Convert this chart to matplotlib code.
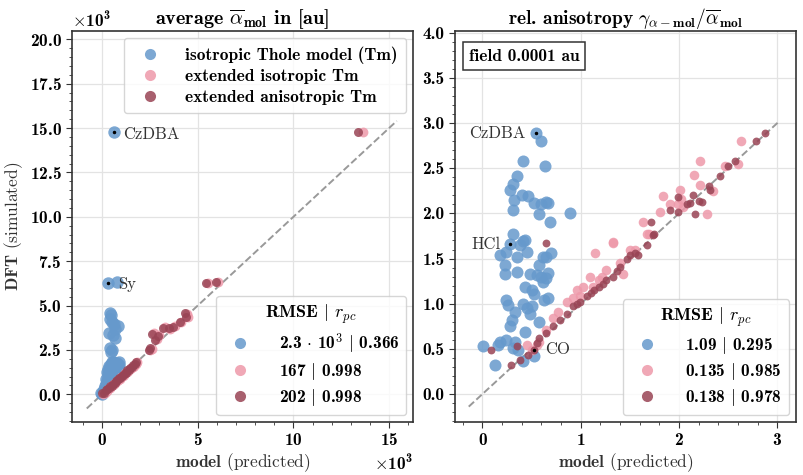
import matplotlib
matplotlib.use("Agg")
import matplotlib.pyplot as plt
from matplotlib.lines import Line2D
import numpy as np

plt.rcParams['font.family'] = 'cmb10'
plt.rcParams['mathtext.fontset'] = 'cm'
plt.rcParams['axes.unicode_minus'] = False
plt.rcParams['axes.formatter.use_mathtext'] = True

blue = '#6699CC'
pink = '#EE99AA'
red = '#994455'

# ---- left panel: average polarizability, in units of 10^3 au ----
avg_iso_x = [0.60, 0.33, 0.80, 0.43, 0.45, 0.42, 0.50, 0.60, 0.85, 0.70, 0.34, 0.69, 0.55,
             0.43, 0.52, 0.48, 0.00, 0.05, -0.05, 0.10, 0.15, 0.20, 0.10, 0.25, 0.30, 0.20,
             0.35, 0.40, 0.30, 0.45, 0.50, 0.40, 0.55, 0.50, 0.65, 0.70, 0.60, 0.75, 0.55,
             0.65, 0.45, 0.35, 0.80, 0.50, 0.60, 0.70, 0.25, 0.40, 0.15, 0.30, 0.85, 0.90,
             0.38, 0.48, 0.58, 0.68, 0.78, 0.28, 0.33, 0.62, 0.72, 0.52, 0.42, 0.88]
avg_iso_y = [14.75, 6.25, 6.35, 4.60, 4.45, 4.25, 4.05, 3.95, 3.85, 3.70, 3.45, 3.17, 3.35,
             2.60, 2.50, 2.40, 0.00, 0.15, 0.05, 0.30, 0.45, 0.60, 0.20, 0.75, 0.90, 0.85,
             1.05, 1.20, 1.15, 1.35, 1.50, 1.40, 1.65, 1.80, 1.75, 1.55, 1.40, 1.45, 1.20,
             1.30, 1.00, 0.80, 1.70, 1.10, 1.60, 1.25, 0.50, 0.70, 0.25, 0.55, 1.55, 1.65,
             1.62, 1.72, 1.82, 1.68, 1.78, 1.25, 1.45, 1.00, 1.35, 1.30, 0.95, 1.80]

avg_ext_x = [13.65, 5.55, 6.05, 4.45, 4.50, 4.15, 3.80, 3.55, 3.30, 3.00, 2.70, 2.85, 2.60,
             2.50, 0.05, 0.15, 0.25, 0.32, 0.40, 0.48, 0.55, 0.62, 0.70, 0.78, 0.85, 0.93,
             1.00, 1.08, 1.15, 1.22, 1.30, 1.38, 1.45, 1.52, 1.60, 1.68, 1.75, 1.85]
avg_ext_y = [14.75, 6.25, 6.35, 4.50, 4.35, 4.05, 3.85, 3.70, 3.80, 3.35, 3.45, 3.10, 2.55,
             2.50, 0.02, 0.10, 0.20, 0.28, 0.36, 0.45, 0.50, 0.58, 0.66, 0.74, 0.80, 0.88,
             0.96, 1.03, 1.10, 1.18, 1.26, 1.33, 1.40, 1.47, 1.55, 1.62, 1.70, 1.80]

avg_aniso_x = [13.40, 5.45, 5.95, 4.32, 4.40, 4.05, 3.70, 3.50, 3.19, 2.93, 2.59, 2.76, 2.53,
               2.44, 0.02, 0.12, 0.20, 0.28, 0.35, 0.42, 0.50, 0.58, 0.65, 0.72, 0.80, 0.88,
               0.95, 1.02, 1.10, 1.18, 1.25, 1.32, 1.40, 1.48, 1.55, 1.62, 1.70, 1.78]
avg_aniso_y = [14.75, 6.25, 6.35, 4.56, 4.33, 4.09, 3.81, 3.75, 3.75, 3.28, 3.40, 3.06, 2.59,
               2.50, 0.05, 0.10, 0.22, 0.30, 0.33, 0.45, 0.48, 0.60, 0.63, 0.75, 0.78, 0.90,
               0.93, 1.05, 1.08, 1.20, 1.22, 1.35, 1.38, 1.50, 1.52, 1.65, 1.68, 1.80]

# ---- right panel: relative anisotropy ----
ani_iso_x = [0.54, 0.60, 0.41, 0.64, 0.35, 0.31, 0.28, 0.32, 0.40, 0.46, 0.52, 0.60, 0.65,
             0.67, 0.31, 0.58, 0.69, 0.89, 0.31, 0.41, 0.43, 0.38, 0.18, 0.24, 0.45, 0.35,
             0.23, 0.35, 0.23, 0.58, 0.65, 0.70, 0.62, 0.48, 0.55, 0.60, 0.65, 0.62, 0.67,
             0.43, 0.50, 0.52, 0.63, 0.67, 0.24, 0.26, 0.41, 0.45, 0.50, 0.33, 0.48, 0.30,
             0.57, 0.28, 0.43, 0.18, 0.24, 0.33, 0.16, 0.01, 0.31, 0.36, 0.13, 0.41, 0.52,
             0.28]
ani_iso_y = [2.89, 2.80, 2.58, 2.52, 2.41, 2.33, 2.26, 2.15, 2.20, 2.19, 2.12, 2.10, 2.13,
             2.12, 2.04, 1.99, 1.90, 2.00, 1.77, 1.69, 1.70, 1.65, 1.54, 1.57, 1.57, 1.52,
             1.43, 1.35, 1.33, 1.43, 1.52, 1.56, 1.52, 1.33, 1.32, 1.30, 1.28, 1.24, 1.34,
             1.19, 1.15, 1.11, 1.04, 1.06, 1.04, 0.99, 1.00, 0.95, 0.97, 0.91, 0.89, 0.82,
             0.80, 0.75, 0.69, 0.58, 0.60, 0.58, 0.54, 0.53, 0.51, 0.49, 0.32, 0.36, 0.42,
             1.66]

ani_ext_x = [2.63, 2.21, 2.15, 2.21, 2.47, 2.01, 1.84, 1.91, 1.81, 2.02, 1.99, 2.04, 2.28,
             1.63, 1.69, 1.33, 1.67, 1.33, 1.14, 1.43, 1.09, 1.19, 0.96, 0.86, 0.77, 0.72,
             0.65, 0.58, 0.55, 0.50, 0.45, 1.02, 1.26, 0.99, 1.50, 0.92, 1.22, 1.12, 1.40,
             2.60, 2.35, 1.55]
ani_ext_y = [2.80, 2.58, 2.42, 2.31, 2.53, 2.26, 2.19, 2.10, 2.01, 2.16, 2.10, 2.07, 1.99,
             1.90, 1.77, 1.68, 1.77, 1.67, 1.56, 1.33, 1.30, 1.26, 1.15, 1.02, 0.91, 0.84,
             0.71, 0.58, 0.54, 0.49, 0.54, 1.19, 1.37, 1.08, 1.59, 1.06, 1.30, 1.18, 1.45,
             2.55, 2.25, 1.60]

ani_aniso_x = [2.88, 2.78, 2.57, 2.50, 2.42, 2.31, 2.32, 2.23, 2.14, 2.11, 2.08, 1.99, 2.16,
               1.99, 1.91, 1.71, 1.74, 1.75, 1.67, 1.58, 1.50, 1.47, 1.40, 1.33, 1.26, 1.19,
               1.13, 1.06, 0.99, 0.92, 0.86, 0.79, 0.72, 0.65, 0.58, 0.55, 0.52, 0.46, 0.38,
               0.29, 0.09, 0.35, 0.65, 1.55, 1.37, 1.23, 1.10, 0.96, 2.20]
ani_aniso_y = [2.89, 2.80, 2.58, 2.52, 2.41, 2.30, 2.26, 2.13, 2.20, 2.12, 2.10, 2.18, 1.99,
               2.01, 2.04, 1.90, 1.76, 1.77, 1.65, 1.54, 1.54, 1.50, 1.41, 1.30, 1.26, 1.19,
               1.15, 1.08, 1.02, 0.97, 0.89, 0.82, 0.75, 0.67, 0.62, 0.56, 0.49, 0.43, 0.38,
               0.32, 0.49, 0.53, 1.67, 1.56, 1.36, 1.22, 1.12, 1.00, 2.14]

avg_diag = [-0.8, 15.4]
ani_diag = [-0.14, 3.02]

avg_marks = {'CzDBA': (0.60, 14.75), 'Sy': (0.33, 6.25)}
ani_marks = {'CzDBA': (0.54, 2.89), 'HCl': (0.28, 1.66), 'CO': (0.52, 0.49)}

series_names = ['isotropic Thole model (Tm)', 'extended isotropic Tm', 'extended anisotropic Tm']
avg_stats = [r'2.3$\,\cdot\,$10$^{\mathbf{3}}$ $|$ 0.366', r'167 $|$ 0.998', r'202 $|$ 0.998']
ani_stats = [r'1.09 $|$ 0.295', r'0.135 $|$ 0.985', r'0.138 $|$ 0.978']

fig = plt.figure(figsize=(8.04, 4.75), dpi=100)
ax1 = fig.add_axes([0.0896, 0.1116, 0.4241, 0.8232])
ax2 = fig.add_axes([0.5659, 0.1116, 0.4241, 0.8232])


def style(ax):
    ax.grid(True, which='major', color='#e3e3e3', lw=0.9)
    ax.set_axisbelow(True)
    ax.minorticks_on()
    ax.tick_params(which='both', direction='out', color='#333333', labelsize=12.5)
    ax.tick_params(which='major', length=4)
    ax.tick_params(which='minor', length=2)
    for s in ax.spines.values():
        s.set_color('#333333')
        s.set_linewidth(1.2)
    ax.set_xlabel(r'$\mathbf{model}$ (predicted)', family='cmr10', fontsize=12.5, color='#333333', labelpad=2)


def handles():
    return [Line2D([], [], marker='o', ls='', color=c, alpha=0.85, ms=8, mec='none')
            for c in (blue, pink, red)]


# left panel
k = 1e3
ax1.plot(np.array(avg_diag) * k, np.array(avg_diag) * k, '--', color='#999999', lw=1.4, zorder=1)
ax1.scatter(np.array(avg_iso_x) * k, np.array(avg_iso_y) * k, s=80, color=blue, alpha=0.85, lw=0, zorder=2)
ax1.scatter(np.array(avg_ext_x) * k, np.array(avg_ext_y) * k, s=50, color=pink, alpha=0.85, lw=0, zorder=3)
ax1.scatter(np.array(avg_aniso_x) * k, np.array(avg_aniso_y) * k, s=42, color=red, alpha=0.85, lw=0, zorder=4)
for name, (x, y) in avg_marks.items():
    ax1.plot(x * k, y * k, 'k.', ms=3, zorder=5)
    ax1.annotate(name, (x * k, y * k), xytext=(7, -1), textcoords='offset points',
                 va='center', ha='left', family='cmr10', fontsize=12, color='#333333')
ax1.set_xlim(-1.57e3, 16.25e3)
ax1.set_ylim(-1.56e3, 20.47e3)
ax1.set_xticks([0, 5e3, 10e3, 15e3])
ax1.set_yticks(np.arange(0, 20001, 2500))
ax1.ticklabel_format(style='sci', scilimits=(3, 3), useMathText=True)
ax1.xaxis.get_offset_text().set_fontsize(12.5)
ax1.yaxis.get_offset_text().set_fontsize(12.5)
style(ax1)
ax1.set_ylabel(r'$\mathbf{DFT}$ (simulated)', family='cmr10', fontsize=12.5, color='#333333', labelpad=3)
ax1.set_title(r'average $\overline{\alpha}_{\mathbf{mol}}$ in [au]', fontsize=14.5, pad=5)
leg1 = ax1.legend(handles(), series_names, loc='upper right', fontsize=12.5, handletextpad=1.0,
                  borderpad=0.5, labelspacing=0.3, borderaxespad=0.4)
ax1.add_artist(leg1)
ax1.legend(handles(), avg_stats, loc='lower right', fontsize=12.5, title=r'RMSE $|$ $r_{pc}$',
           title_fontsize=13, handletextpad=1.2, labelspacing=0.3, borderaxespad=0.4)

# right panel
ax2.plot(ani_diag, ani_diag, '--', color='#999999', lw=1.4, zorder=1)
ax2.scatter(ani_iso_x, ani_iso_y, s=75, color=blue, alpha=0.85, lw=0, zorder=2)
ax2.scatter(ani_ext_x, ani_ext_y, s=48, color=pink, alpha=0.85, lw=0, zorder=3)
ax2.scatter(ani_aniso_x, ani_aniso_y, s=32, color=red, alpha=0.85, lw=0, zorder=4)
offs = {'CzDBA': (-7, 'right'), 'HCl': (-7, 'right'), 'CO': (8, 'left')}
for name, (x, y) in ani_marks.items():
    ax2.plot(x, y, 'k.', ms=3, zorder=5)
    dx, ha = offs[name]
    ax2.annotate(name, (x, y), xytext=(dx, 0), textcoords='offset points',
                 va='center', ha=ha, family='cmr10', fontsize=12, color='#333333')
ax2.set_xlim(-0.28, 3.19)
ax2.set_ylim(-0.31, 4.02)
ax2.set_xticks([0, 1, 2, 3])
ax2.set_yticks(np.arange(0, 4.01, 0.5))
ax2.yaxis.set_major_formatter(matplotlib.ticker.FormatStrFormatter('%.1f'))
style(ax2)
ax2.set_title(r'rel. anisotropy $\gamma_{\alpha-\mathbf{mol}}/\overline{\alpha}_{\mathbf{mol}}$',
              fontsize=14, pad=5)
ax2.text(0.04, 0.955, 'field 0.0001 au', transform=ax2.transAxes, fontsize=12.5, va='top', ha='left',
         bbox=dict(boxstyle='square,pad=0.35', fc='white', ec='#333333', lw=1.1))
ax2.legend(handles(), ani_stats, loc='lower right', fontsize=12.5, title=r'RMSE $|$ $r_{pc}$',
           title_fontsize=13, handletextpad=1.2, labelspacing=0.3, borderaxespad=0.4)

fig.savefig('out.png', dpi=100)
